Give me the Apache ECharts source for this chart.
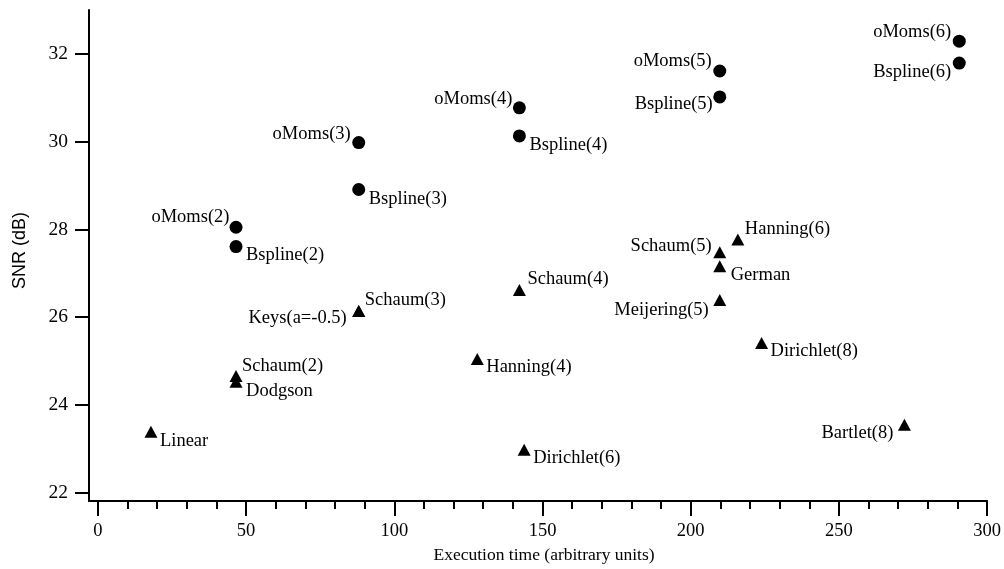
<!DOCTYPE html>
<html>
<head>
<meta charset="utf-8">
<script src="https://cdn.jsdelivr.net/npm/echarts@6/dist/echarts.min.js"></script>
<style>html,body{margin:0;padding:0;background:#fff;}#c{width:1004px;height:569px;}</style>
</head>
<body>
<div id="c"></div>
<script>
// ---- data ----
const circleNames = ['oMoms(2)','Bspline(2)','oMoms(3)','Bspline(3)','oMoms(4)','Bspline(4)','oMoms(5)','Bspline(5)','oMoms(6)','Bspline(6)'];
const circleX = [46.6, 46.6, 88.0, 88.0, 142.2, 142.2, 209.8, 209.8, 290.6, 290.6];
const circleY = [28.05, 27.61, 29.98, 28.91, 30.77, 30.13, 31.61, 31.02, 32.29, 31.79];

const triNames = ['Linear','Schaum(2)','Dodgson','Keys(a=-0.5)','Schaum(3)','Schaum(4)','Hanning(4)','Dirichlet(6)','Schaum(5)','German','Hanning(6)','Meijering(5)','Dirichlet(8)','Bartlet(8)'];
const triX = [17.9, 46.6, 46.6, 88.0, 88.0, 142.2, 128.0, 143.8, 209.8, 209.8, 215.9, 209.8, 223.9, 272.1];
const triY = [23.39, 24.66, 24.53, 26.14, 26.14, 26.62, 25.05, 22.98, 27.48, 27.16, 27.77, 26.39, 25.41, 23.55];

const xMajorTicks = [0, 50, 100, 150, 200, 250, 300];
const xMinorTicks = [10,20,30,40,60,70,80,90,110,120,130,140,160,170,180,190,210,220,230,240,260,270,280,290];
const yMajorTicks = [22, 24, 26, 28, 30, 32];

// ---- label placement (layout) ----
const place = {
  'oMoms(2)':['left',0,-10], 'Bspline(2)':['right',3.5,9],
  'oMoms(3)':['left',-1.5,-8], 'Bspline(3)':['right',3.5,10],
  'oMoms(4)':['left',-0.5,-9], 'Bspline(4)':['right',3.5,9],
  'oMoms(5)':['left',-1.5,-10], 'Bspline(5)':['left',-0.5,7],
  'oMoms(6)':['left',-1.5,-9], 'Bspline(6)':['left',-1.5,9],
  'Linear':['right',2.5,9], 'Schaum(2)':['right',-0.5,-10], 'Dodgson':['right',3.5,9],
  'Keys(a=-0.5)':['left',-5.5,7], 'Schaum(3)':['right',-0.5,-11], 'Schaum(4)':['right',1.5,-11],
  'Hanning(4)':['right',2.5,8], 'Dirichlet(6)':['right',2.5,8], 'Schaum(5)':['left',-1.5,-6],
  'German':['right',4.5,9], 'Hanning(6)':['right',0.5,-10], 'Meijering(5)':['left',-4.5,10],
  'Dirichlet(8)':['right',2.5,8], 'Bartlet(8)':['left',-4.5,8]
};
const serif = '"Liberation Serif","Times New Roman",serif';

function build(names, xs, ys) {
  return names.map((n, i) => {
    const p = place[n];
    return {
      name: n,
      value: [xs[i], ys[i]],
      label: {
        show: true, formatter: n, position: p[0], distance: 0,
        offset: [p[1], p[2]],
        fontFamily: serif, fontSize: 18.5, color: '#000', opacity: 1
      }
    };
  });
}

const chart = echarts.init(document.getElementById('c'), null, {renderer: 'canvas'});
chart.setOption({
  backgroundColor: '#fff',
  animation: false,
  grid: {left: 89, right: 15, top: 10, bottom: 66, containLabel: false},
  xAxis: [{
    type: 'value', min: -3, max: 300,
    name: 'Execution time (arbitrary units)', nameLocation: 'middle', nameGap: 38,
    nameTextStyle: {fontFamily: serif, fontSize: 17.5, color: '#000', padding: [0, 0, 0, 12]},
    axisLine: {show: true, onZero: false, lineStyle: {color: '#000', width: 2}},
    axisTick: {show: true, inside: false, length: 15, customValues: xMajorTicks, lineStyle: {color: '#000', width: 2}},
    axisLabel: {show: true, margin: 21, customValues: xMajorTicks, fontFamily: serif, fontSize: 18.5, color: '#000'},
    splitLine: {show: false}
  }, {
    type: 'value', min: -3, max: 300, position: 'bottom',
    axisLine: {show: false},
    axisTick: {show: true, inside: false, length: 8, customValues: xMinorTicks, lineStyle: {color: '#000', width: 2}},
    axisLabel: {show: false},
    splitLine: {show: false}
  }],
  yAxis: {
    type: 'value', min: 21.81, max: 33,
    name: 'SNR (dB)', nameLocation: 'middle', nameGap: 60,
    nameTextStyle: {fontFamily: '"Liberation Sans",Arial,sans-serif', fontSize: 18, color: '#000', padding: [0, 0, 0, 10]},
    axisLine: {show: true, onZero: false, lineStyle: {color: '#000', width: 2}},
    axisTick: {show: true, inside: false, length: 14, customValues: yMajorTicks, lineStyle: {color: '#000', width: 2}},
    axisLabel: {show: true, margin: 21, customValues: yMajorTicks, fontFamily: serif, fontSize: 19.5, color: '#000'},
    splitLine: {show: false}
  },
  series: [{
    type: 'scatter', name: 'B-spline family', symbol: 'circle', symbolSize: 13,
    itemStyle: {color: '#000', opacity: 1},
    data: build(circleNames, circleX, circleY)
  }, {
    type: 'scatter', name: 'Other kernels', symbol: 'triangle', symbolSize: [13, 12],
    itemStyle: {color: '#000', opacity: 1},
    data: build(triNames, triX, triY)
  }]
});
</script>
</body>
</html>
